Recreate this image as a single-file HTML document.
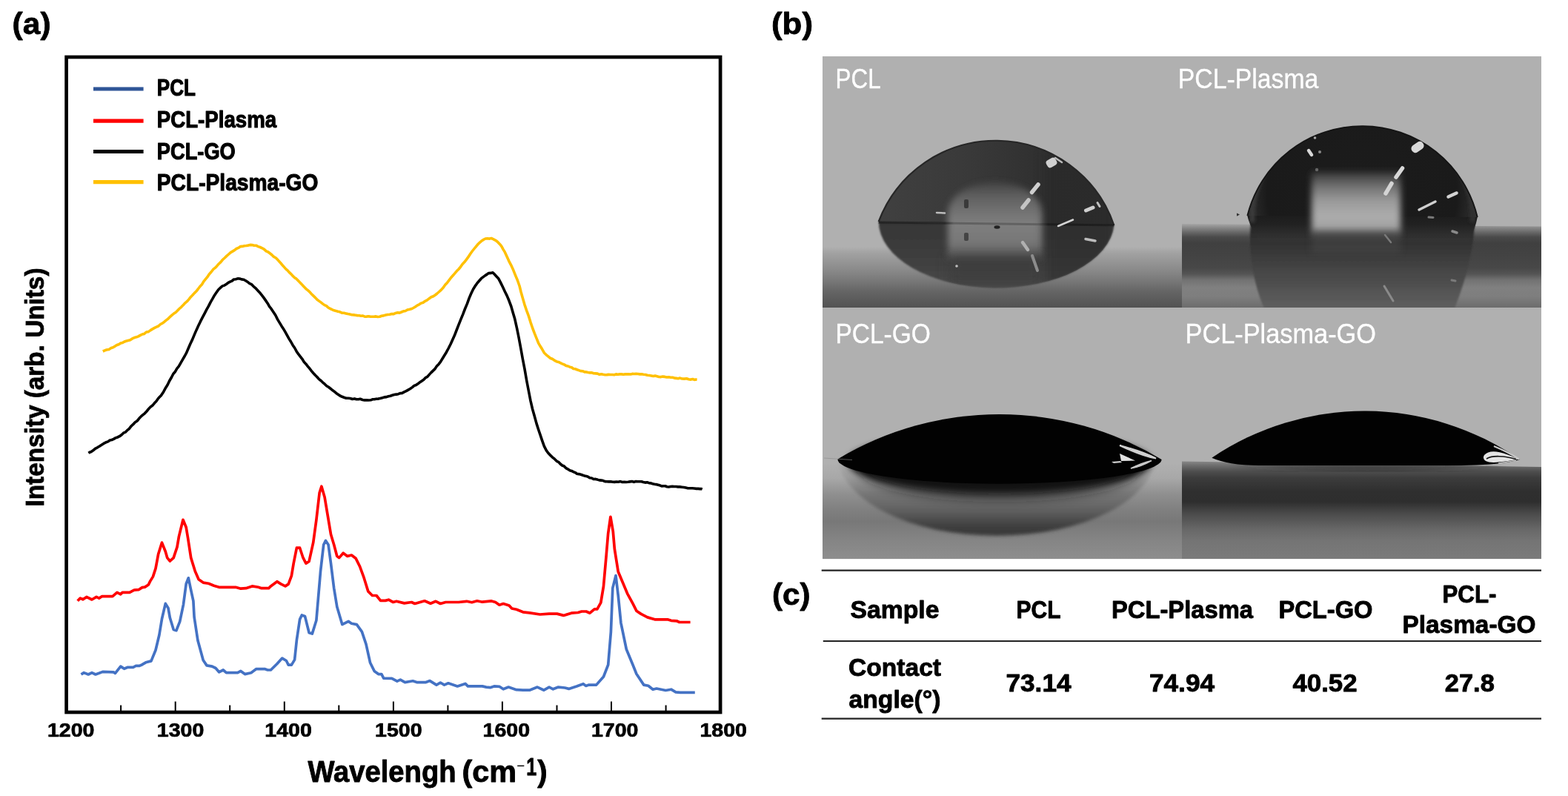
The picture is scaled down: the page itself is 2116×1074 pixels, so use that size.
<!DOCTYPE html>
<html><head><meta charset="utf-8"><title>Figure</title>
<style>
html,body{margin:0;padding:0;background:#fff;}
body{width:2116px;height:1074px;overflow:hidden;}
svg{display:block;}
</style></head><body>
<svg width="2116" height="1074" viewBox="0 0 2116 1074" font-family='"Liberation Sans", sans-serif'><text x="16.6" y="45.6" font-size="40.4" font-weight="bold" text-anchor="start" fill="#000" textLength="52.0" lengthAdjust="spacingAndGlyphs" stroke="#000" stroke-width="0.80" stroke-linejoin="round">(a)</text>
<rect x="89.6" y="77.0" width="882.5" height="884.0" fill="none" stroke="#000" stroke-width="4.7"/>
<line x1="163.1" y1="951.5" x2="163.1" y2="959.0" stroke="#000" stroke-width="2"/>
<line x1="236.7" y1="946.5" x2="236.7" y2="959.0" stroke="#000" stroke-width="2"/>
<line x1="310.2" y1="951.5" x2="310.2" y2="959.0" stroke="#000" stroke-width="2"/>
<line x1="383.8" y1="946.5" x2="383.8" y2="959.0" stroke="#000" stroke-width="2"/>
<line x1="457.3" y1="951.5" x2="457.3" y2="959.0" stroke="#000" stroke-width="2"/>
<line x1="530.9" y1="946.5" x2="530.9" y2="959.0" stroke="#000" stroke-width="2"/>
<line x1="604.4" y1="951.5" x2="604.4" y2="959.0" stroke="#000" stroke-width="2"/>
<line x1="677.9" y1="946.5" x2="677.9" y2="959.0" stroke="#000" stroke-width="2"/>
<line x1="751.5" y1="951.5" x2="751.5" y2="959.0" stroke="#000" stroke-width="2"/>
<line x1="825.0" y1="946.5" x2="825.0" y2="959.0" stroke="#000" stroke-width="2"/>
<line x1="898.6" y1="951.5" x2="898.6" y2="959.0" stroke="#000" stroke-width="2"/>
<text x="95.7" y="994.3" font-size="25.4" font-weight="bold" text-anchor="middle" fill="#000" textLength="63.5" lengthAdjust="spacingAndGlyphs" stroke="#000" stroke-width="0.70" stroke-linejoin="round">1200</text>
<text x="243.6" y="994.3" font-size="25.4" font-weight="bold" text-anchor="middle" fill="#000" textLength="63.5" lengthAdjust="spacingAndGlyphs" stroke="#000" stroke-width="0.70" stroke-linejoin="round">1300</text>
<text x="389.1" y="994.3" font-size="25.4" font-weight="bold" text-anchor="middle" fill="#000" textLength="63.5" lengthAdjust="spacingAndGlyphs" stroke="#000" stroke-width="0.70" stroke-linejoin="round">1400</text>
<text x="537.8" y="994.3" font-size="25.4" font-weight="bold" text-anchor="middle" fill="#000" textLength="63.5" lengthAdjust="spacingAndGlyphs" stroke="#000" stroke-width="0.70" stroke-linejoin="round">1500</text>
<text x="683.3" y="994.3" font-size="25.4" font-weight="bold" text-anchor="middle" fill="#000" textLength="63.5" lengthAdjust="spacingAndGlyphs" stroke="#000" stroke-width="0.70" stroke-linejoin="round">1600</text>
<text x="829.7" y="994.3" font-size="25.4" font-weight="bold" text-anchor="middle" fill="#000" textLength="63.5" lengthAdjust="spacingAndGlyphs" stroke="#000" stroke-width="0.70" stroke-linejoin="round">1700</text>
<text x="976.2" y="994.3" font-size="25.4" font-weight="bold" text-anchor="middle" fill="#000" textLength="63.5" lengthAdjust="spacingAndGlyphs" stroke="#000" stroke-width="0.70" stroke-linejoin="round">1800</text>
<text x="415.5" y="1055.3" font-size="40" font-weight="bold" textLength="200" lengthAdjust="spacingAndGlyphs" stroke="#000" stroke-width="0.9" stroke-linejoin="round">Wavelengh</text>
<text x="623.5" y="1055.3" font-size="40" font-weight="bold" textLength="73.5" lengthAdjust="spacingAndGlyphs" stroke="#000" stroke-width="0.9" stroke-linejoin="round">(cm</text>
<text x="697.2" y="1040.2" font-size="20" font-weight="normal" textLength="11" lengthAdjust="spacingAndGlyphs">&#8722;</text>
<text x="710.3" y="1046" font-size="34" font-weight="bold" textLength="14" lengthAdjust="spacingAndGlyphs" stroke="#000" stroke-width="0.9" stroke-linejoin="round">1</text>
<text x="725.2" y="1055.3" font-size="40" font-weight="bold" stroke="#000" stroke-width="0.9" stroke-linejoin="round">)</text>
<text transform="translate(59,683.5) rotate(-90)" x="0" y="0" font-size="35" font-weight="bold" textLength="322" lengthAdjust="spacingAndGlyphs" stroke="#000" stroke-width="0.8">Intensity (arb. Units)</text>
<line x1="126" y1="120.0" x2="193.6" y2="120.0" stroke="#2f5597" stroke-width="5.2"/>
<text x="211.8" y="128.8" font-size="31.5" font-weight="bold" text-anchor="start" fill="#000" textLength="52.2" lengthAdjust="spacingAndGlyphs" stroke="#000" stroke-width="1.10" stroke-linejoin="round">PCL</text>
<line x1="126" y1="163.1" x2="193.6" y2="163.1" stroke="#ff0000" stroke-width="5.2"/>
<text x="211.8" y="172.0" font-size="31.5" font-weight="bold" text-anchor="start" fill="#000" textLength="161.4" lengthAdjust="spacingAndGlyphs" stroke="#000" stroke-width="1.10" stroke-linejoin="round">PCL-Plasma</text>
<line x1="126" y1="204.5" x2="193.6" y2="204.5" stroke="#000000" stroke-width="5.2"/>
<text x="211.8" y="214.7" font-size="31.5" font-weight="bold" text-anchor="start" fill="#000" textLength="106.0" lengthAdjust="spacingAndGlyphs" stroke="#000" stroke-width="1.10" stroke-linejoin="round">PCL-GO</text>
<line x1="126" y1="245.6" x2="193.6" y2="245.6" stroke="#ffc000" stroke-width="5.2"/>
<text x="211.8" y="256.7" font-size="31.5" font-weight="bold" text-anchor="start" fill="#000" textLength="217.6" lengthAdjust="spacingAndGlyphs" stroke="#000" stroke-width="1.10" stroke-linejoin="round">PCL-Plasma-GO</text>
<path d="M138.8,474.0 L140.8,473.1 L143.7,472.0 L147.0,471.4 L150.0,469.5 L152.5,468.8 L154.7,467.4 L157.3,465.7 L160.7,464.5 L162.8,463.1 L165.0,462.6 L167.4,461.2 L170.0,460.2 L172.8,459.5 L175.7,458.8 L178.8,456.7 L182.0,455.3 L184.3,454.7 L186.7,453.9 L189.3,452.4 L192.0,451.0 L194.7,450.4 L197.5,448.0 L200.3,447.6 L203.1,445.6 L205.9,443.9 L208.6,442.4 L211.2,441.1 L213.8,440.0 L216.5,437.5 L219.2,436.1 L221.8,434.2 L224.5,431.9 L227.0,430.0 L229.6,427.3 L232.1,425.1 L234.6,423.1 L237.1,421.4 L239.6,418.9 L242.0,416.5 L244.6,414.3 L247.3,411.6 L249.8,408.8 L252.4,406.7 L254.9,403.9 L257.4,400.7 L259.8,398.3 L262.2,395.6 L264.6,393.3 L266.9,390.5 L269.7,386.7 L272.3,384.1 L274.8,379.8 L277.2,376.9 L279.7,373.9 L282.3,369.9 L285.0,367.0 L288.0,363.2 L290.3,361.4 L292.7,358.9 L295.3,356.0 L297.9,353.6 L300.5,350.3 L303.2,348.0 L305.9,345.4 L308.6,343.0 L311.3,340.6 L313.9,339.1 L316.4,337.6 L319.1,335.5 L321.8,334.4 L324.5,332.6 L327.1,332.4 L329.8,331.7 L332.4,331.5 L335.0,331.1 L337.6,330.4 L340.3,330.6 L342.9,331.3 L345.6,331.2 L348.3,332.6 L351.0,333.5 L353.8,334.8 L356.5,336.4 L359.2,338.9 L361.9,340.0 L364.5,342.0 L367.0,344.0 L369.4,346.4 L372.3,348.0 L375.3,351.1 L378.1,354.2 L380.9,357.5 L383.5,360.4 L385.9,363.1 L388.1,364.9 L390.0,367.1 L393.2,370.1 L394.9,372.1 L397.7,374.8 L399.7,375.9 L402.0,378.3 L404.6,380.9 L407.3,383.7 L410.1,386.7 L412.8,389.6 L415.4,391.7 L417.9,393.9 L420.4,396.7 L422.9,399.1 L425.5,401.6 L428.0,404.3 L430.5,406.1 L433.0,407.9 L435.5,409.9 L437.9,411.6 L440.4,412.6 L442.9,415.0 L445.4,416.3 L448.0,417.7 L450.7,418.8 L453.2,419.4 L455.9,420.3 L458.6,420.8 L461.4,422.2 L464.1,422.3 L466.8,422.9 L469.5,423.6 L472.0,424.1 L474.7,424.8 L477.3,424.9 L479.8,425.2 L482.3,425.6 L484.8,425.8 L487.2,426.3 L489.7,426.1 L492.2,427.2 L494.6,427.1 L497.1,426.8 L499.5,427.1 L502.0,427.3 L504.6,427.3 L507.3,426.9 L509.8,427.5 L512.4,427.3 L515.0,426.3 L517.7,425.9 L520.5,425.0 L523.2,424.5 L525.9,424.2 L528.6,423.5 L531.3,423.6 L533.9,422.4 L536.6,421.7 L539.2,422.1 L541.9,421.0 L544.5,419.9 L547.2,419.5 L549.8,418.0 L552.4,417.5 L555.1,416.8 L557.8,415.5 L560.4,414.0 L563.0,412.1 L565.7,410.8 L568.3,409.1 L571.0,408.2 L573.7,406.3 L576.5,404.9 L579.3,402.7 L582.0,400.8 L584.8,399.7 L587.4,398.0 L589.9,396.0 L592.2,394.0 L595.4,391.1 L598.2,388.0 L600.8,384.3 L603.5,381.4 L606.4,377.6 L608.7,374.5 L611.2,371.7 L613.7,368.9 L616.3,365.8 L618.9,363.2 L621.4,360.3 L624.0,356.5 L626.6,353.8 L629.3,350.3 L632.0,346.7 L634.7,342.5 L637.2,339.0 L639.6,336.0 L641.8,333.3 L645.0,329.5 L647.5,327.1 L649.9,325.1 L652.4,323.4 L655.1,322.0 L657.9,321.8 L660.6,322.1 L663.0,321.5 L665.6,322.6 L667.8,323.8 L670.0,325.1 L672.3,327.2 L674.7,329.7 L677.0,332.6 L679.1,336.6 L681.2,339.9 L684.1,346.3 L686.6,351.8 L689.6,357.6 L692.8,364.6 L695.8,372.1 L698.3,378.0 L701.1,386.0 L703.0,393.7 L705.4,402.2 L707.8,410.6 L710.5,418.6 L713.3,426.1 L716.0,434.8 L718.6,442.5 L721.3,449.7 L724.0,456.4 L726.6,462.8 L729.2,467.3 L731.7,471.3 L734.3,475.9 L737.2,478.8 L739.8,480.9 L742.5,483.2 L745.3,484.3 L748.3,486.3 L751.4,487.9 L753.7,488.4 L756.2,489.6 L758.7,490.8 L761.3,491.9 L763.9,493.4 L766.5,494.0 L769.0,495.2 L771.5,495.8 L773.8,497.5 L776.2,497.8 L778.6,498.7 L781.1,499.6 L783.8,500.6 L786.7,500.8 L788.9,501.9 L791.2,501.9 L793.6,502.5 L796.1,502.9 L798.7,502.9 L801.2,503.8 L803.8,503.9 L806.4,504.1 L809.0,505.3 L811.5,504.8 L814.0,505.3 L816.5,505.7 L818.9,505.6 L821.4,505.4 L823.9,505.5 L826.4,505.5 L828.9,505.7 L831.3,504.9 L833.8,505.3 L836.3,504.9 L838.8,504.9 L841.2,505.3 L843.6,504.9 L846.0,504.8 L848.4,504.9 L850.9,505.0 L853.3,504.4 L855.8,504.5 L858.4,504.4 L861.0,504.5 L863.4,504.9 L865.9,504.8 L868.5,505.2 L871.0,505.5 L873.6,506.3 L876.2,506.5 L878.9,507.0 L881.5,507.5 L884.1,507.1 L886.7,507.8 L889.3,508.5 L891.9,508.6 L894.5,508.1 L897.2,508.4 L899.8,509.0 L902.5,508.8 L905.1,509.2 L907.7,509.2 L910.3,510.1 L912.8,510.4 L915.2,510.7 L917.6,510.1 L920.5,511.0 L923.5,511.1 L926.5,510.8 L929.4,511.8 L932.2,512.1 L934.8,511.5 L937.1,512.4 L939.1,512.0 L940.6,512.2" fill="none" stroke="#ffc000" stroke-width="3.6" stroke-linejoin="round" stroke-linecap="butt"/>
<path d="M119.4,611.3 L121.0,610.3 L123.1,609.5 L125.6,607.8 L128.4,605.3 L131.4,603.8 L134.4,602.0 L137.5,600.0 L140.3,598.2 L143.0,596.8 L145.7,595.9 L148.3,594.0 L150.8,593.5 L153.4,592.4 L155.9,590.9 L158.5,590.0 L161.3,588.7 L164.3,586.5 L166.6,584.2 L169.1,583.2 L171.6,580.7 L174.2,578.6 L176.9,575.1 L179.6,572.7 L182.3,569.8 L185.0,568.0 L187.6,564.8 L190.1,562.1 L192.6,559.9 L195.3,557.8 L197.9,555.0 L200.6,551.7 L203.2,548.9 L205.8,547.1 L208.3,544.1 L210.8,541.5 L213.1,538.2 L215.3,535.6 L217.3,533.7 L220.8,528.4 L223.6,523.2 L226.1,519.3 L228.6,514.0 L231.5,509.0 L233.8,504.5 L236.2,501.8 L238.7,497.3 L241.2,494.3 L243.8,489.8 L246.5,485.2 L249.2,480.5 L251.7,475.9 L254.3,469.7 L256.9,463.7 L259.6,458.1 L262.3,451.6 L265.0,445.4 L267.7,439.6 L270.4,433.9 L273.1,428.7 L275.9,423.3 L278.7,417.9 L281.4,413.1 L284.2,407.6 L286.8,403.2 L289.3,398.7 L291.6,395.3 L294.8,390.7 L297.6,388.1 L300.2,385.9 L302.8,385.1 L305.8,383.2 L308.1,381.3 L310.5,380.1 L313.0,379.1 L315.5,377.0 L318.1,376.8 L320.8,375.9 L323.5,376.0 L326.0,376.9 L328.6,377.2 L331.2,378.5 L333.9,380.2 L336.6,382.3 L339.3,383.6 L342.0,386.3 L344.7,388.6 L347.4,391.4 L350.2,394.4 L353.0,397.9 L355.7,401.4 L358.5,405.4 L361.1,409.2 L363.6,413.6 L365.9,416.4 L369.1,421.2 L371.9,425.5 L374.4,430.6 L377.1,435.1 L380.0,439.9 L382.3,443.4 L384.8,447.7 L387.3,452.2 L389.9,456.9 L392.5,461.0 L395.1,465.7 L397.7,469.5 L400.2,474.2 L402.8,477.9 L405.3,481.1 L407.8,484.3 L410.4,488.6 L412.9,491.2 L415.4,494.4 L417.9,497.2 L420.4,500.6 L422.9,503.5 L425.5,506.3 L428.0,508.7 L430.5,511.6 L433.0,513.5 L435.6,516.1 L438.2,518.2 L440.8,520.7 L443.4,522.3 L445.9,524.2 L448.4,526.3 L450.7,527.9 L453.7,530.4 L456.3,532.2 L458.9,534.0 L461.7,535.3 L464.9,536.5 L467.3,537.3 L469.9,537.2 L472.6,537.5 L475.5,538.5 L478.4,537.9 L481.1,538.7 L483.7,538.8 L486.1,538.3 L489.3,539.5 L491.9,539.9 L494.5,539.8 L497.1,540.0 L500.3,539.8 L502.6,538.8 L505.1,538.8 L507.7,538.3 L510.5,538.1 L513.2,537.4 L516.0,536.8 L518.8,535.9 L521.5,535.6 L524.1,534.8 L526.8,534.3 L529.4,533.3 L532.1,532.6 L534.7,532.1 L537.4,531.7 L540.0,530.6 L542.7,530.4 L545.4,528.9 L548.1,527.6 L550.8,526.1 L553.6,524.5 L556.3,522.6 L558.9,520.4 L561.5,519.5 L564.0,517.8 L566.7,515.7 L569.3,513.9 L571.8,512.2 L574.2,509.7 L576.7,508.4 L579.1,505.6 L581.6,502.9 L584.2,500.4 L586.8,497.9 L589.4,494.1 L592.0,491.4 L594.5,488.1 L597.0,484.0 L599.3,480.3 L602.4,475.2 L605.2,470.0 L608.0,464.5 L610.7,458.4 L613.5,452.3 L616.3,445.0 L619.1,437.9 L622.0,430.7 L624.8,423.9 L627.6,416.5 L630.4,409.9 L633.1,402.4 L635.9,395.8 L638.7,389.9 L641.8,385.1 L644.2,381.8 L646.8,378.8 L649.5,375.7 L652.2,373.6 L654.9,371.6 L657.3,370.1 L659.5,368.6 L662.5,368.4 L665.0,367.8 L667.3,370.1 L670.0,373.0 L672.6,375.7 L675.5,381.1 L678.5,387.3 L681.4,393.5 L684.1,398.9 L687.0,405.8 L689.7,413.0 L692.2,421.8 L694.8,430.6 L697.5,442.7 L700.1,455.5 L702.8,470.0 L705.4,484.5 L708.0,497.9 L710.7,513.5 L713.4,527.5 L716.0,540.9 L718.6,552.0 L721.3,561.5 L724.0,571.4 L726.6,579.5 L729.2,587.1 L731.7,594.6 L734.3,601.9 L737.2,607.6 L739.8,611.2 L742.5,614.1 L745.3,616.8 L748.3,619.2 L751.4,622.3 L753.7,623.3 L756.2,626.0 L758.7,628.0 L761.3,629.0 L763.9,631.7 L766.5,633.1 L769.0,634.7 L771.5,635.4 L773.8,636.6 L776.2,637.6 L778.6,639.2 L781.1,639.6 L783.8,640.3 L786.7,641.3 L788.9,641.9 L791.1,642.4 L793.5,643.2 L795.9,644.8 L798.4,645.0 L801.0,646.5 L803.6,646.4 L806.2,647.1 L808.8,647.9 L811.5,648.1 L813.9,648.6 L816.4,649.6 L819.0,649.7 L821.5,649.9 L824.1,649.8 L826.7,650.3 L829.4,650.4 L832.0,650.0 L834.6,650.3 L837.2,649.6 L839.8,650.5 L842.4,650.2 L845.0,650.5 L847.6,650.3 L850.2,649.9 L852.9,649.5 L855.5,650.4 L858.1,649.5 L860.6,649.8 L863.2,649.7 L865.7,649.8 L868.1,650.5 L870.7,651.1 L873.3,650.7 L875.8,651.7 L878.3,651.9 L880.7,652.8 L883.2,653.3 L885.6,653.6 L888.0,654.2 L890.4,654.8 L892.9,655.9 L895.3,655.8 L897.8,655.8 L900.1,656.7 L902.5,657.0 L904.9,656.5 L907.3,656.3 L909.8,656.5 L912.3,656.5 L914.9,656.9 L917.6,656.9 L920.0,657.2 L922.7,657.5 L925.5,658.1 L928.3,658.7 L931.3,658.8 L934.2,658.7 L937.0,659.0 L939.7,659.4 L942.2,659.4 L944.4,659.6 L946.2,659.5 L947.7,660.1" fill="none" stroke="#000000" stroke-width="3.6" stroke-linejoin="round" stroke-linecap="butt"/>
<path d="M104.7,810.8 L108.3,807.1 L112.0,808.8 L116.8,805.4 L124.0,809.0 L130.1,805.4 L133.7,807.1 L137.4,804.7 L151.9,804.7 L158.0,799.4 L162.8,801.8 L165.2,799.4 L174.9,799.4 L181.0,796.2 L187.0,795.7 L191.9,792.6 L195.5,792.1 L200.3,789.0 L202.7,784.1 L206.4,778.1 L210.0,767.2 L213.6,747.8 L218.5,732.1 L223.3,744.2 L225.7,752.6 L229.4,757.0 L234.2,752.6 L239.0,738.1 L241.5,723.6 L247.0,701.3 L251.2,711.5 L253.6,726.0 L257.7,752.6 L263.3,770.8 L268.1,781.7 L274.2,786.1 L281.4,787.3 L288.7,790.2 L295.6,792.3 L317.9,792.3 L324.9,794.2 L331.9,793.7 L340.3,790.9 L348.7,792.3 L352.9,793.7 L362.6,793.7 L365.4,790.9 L373.8,784.7 L379.4,788.1 L385.0,790.9 L389.2,788.1 L393.4,776.9 L396.2,760.1 L400.4,739.2 L404.6,739.2 L408.7,751.8 L412.9,760.1 L417.1,757.4 L422.7,732.2 L426.9,701.5 L431.1,665.1 L433.9,656.2 L438.1,670.7 L442.3,695.9 L446.5,721.0 L450.7,735.0 L454.8,750.4 L457.6,752.6 L463.2,746.2 L468.8,750.4 L474.4,749.0 L480.0,753.2 L485.6,764.3 L491.2,779.7 L496.8,797.9 L502.4,803.5 L508.0,803.5 L513.5,810.4 L520.0,810.4 L524.4,809.2 L530.6,812.5 L535.0,811.3 L545.6,813.9 L555.4,812.5 L559.8,814.5 L573.0,810.8 L581.0,814.3 L588.1,811.3 L594.3,814.5 L601.4,812.5 L619.0,812.5 L629.7,811.3 L636.7,812.7 L643.8,810.8 L650.9,812.2 L663.3,810.9 L668.6,812.5 L673.9,816.2 L679.2,814.5 L687.1,817.0 L690.7,821.0 L696.9,822.3 L705.7,825.8 L714.6,826.9 L728.7,829.0 L741.1,828.1 L751.7,828.1 L760.5,830.4 L771.1,827.2 L780.0,826.5 L784.9,825.0 L791.1,825.0 L796.0,827.2 L802.2,821.8 L805.9,821.8 L810.8,813.1 L814.5,790.9 L818.2,749.0 L820.7,719.4 L823.9,697.3 L827.3,717.0 L829.3,740.4 L834.2,771.2 L840.4,786.0 L846.6,800.8 L854.0,814.4 L858.9,824.2 L865.1,828.4 L873.7,832.9 L883.6,835.8 L900.8,835.8 L905.7,837.3 L913.1,837.8 L916.8,839.5 L931.6,839.5" fill="none" stroke="#ff0000" stroke-width="3.7" stroke-linejoin="round" stroke-linecap="butt"/>
<path d="M109.5,910.0 L113.2,907.6 L119.2,910.0 L124.0,907.6 L128.9,910.0 L133.7,908.3 L138.6,906.4 L153.1,906.9 L155.5,908.3 L162.8,899.1 L167.6,902.3 L172.5,900.3 L179.7,900.3 L183.4,898.4 L188.2,898.4 L191.9,896.7 L196.7,893.8 L204.0,891.9 L210.0,877.3 L214.9,856.8 L218.5,835.0 L223.3,814.4 L227.0,820.4 L229.4,833.8 L234.2,849.5 L237.9,850.7 L242.7,838.6 L247.5,815.6 L251.2,787.7 L254.3,779.8 L257.2,793.8 L260.9,810.8 L262.1,832.5 L266.9,864.0 L274.2,890.7 L279.0,897.9 L286.3,899.1 L291.1,901.5 L295.6,906.8 L301.2,904.0 L305.4,907.7 L320.7,907.7 L324.9,905.4 L330.5,909.6 L338.9,907.7 L345.9,902.6 L357.1,902.6 L361.2,904.0 L365.4,904.0 L373.8,895.7 L380.8,888.1 L386.4,891.5 L389.2,897.1 L393.4,897.1 L397.6,890.1 L400.4,863.5 L404.6,835.6 L407.3,830.0 L411.5,831.4 L417.1,853.7 L421.3,855.1 L426.9,837.0 L432.5,771.3 L436.7,735.0 L439.5,729.4 L443.1,735.0 L446.5,760.1 L450.7,793.7 L454.8,818.8 L461.8,842.6 L470.2,838.4 L474.4,841.2 L481.4,842.6 L488.4,852.3 L494.0,869.1 L499.6,894.3 L505.1,905.4 L510.7,909.6 L514.9,909.6 L517.7,915.2 L528.8,915.3 L535.9,919.2 L540.3,917.1 L546.5,920.6 L557.1,918.8 L562.4,920.6 L574.8,920.6 L580.1,918.6 L589.0,924.1 L594.3,921.0 L599.6,924.1 L604.9,921.8 L617.3,925.9 L627.9,922.4 L631.4,925.9 L650.9,925.9 L656.2,927.1 L661.5,927.7 L666.8,925.9 L673.9,926.3 L679.2,929.8 L686.2,927.1 L696.9,930.7 L705.7,931.2 L714.6,931.2 L725.2,927.1 L734.0,931.2 L741.1,927.1 L746.4,929.8 L753.5,927.1 L762.3,928.0 L767.6,929.4 L778.2,925.9 L787.1,922.7 L790.6,925.4 L794.8,924.1 L804.7,924.1 L814.5,913.0 L820.7,897.0 L824.4,852.6 L826.8,793.4 L831.0,776.6 L834.2,803.3 L837.9,840.3 L845.3,876.0 L854.0,897.0 L858.9,909.3 L868.8,924.1 L874.9,925.3 L881.1,930.2 L886.0,929.0 L898.3,931.5 L905.7,930.2 L911.9,933.9 L918.1,934.4 L937.8,934.4" fill="none" stroke="#4472c4" stroke-width="3.7" stroke-linejoin="round" stroke-linecap="butt"/>
<text x="1041.0" y="45.6" font-size="40.4" font-weight="bold" text-anchor="start" fill="#000" textLength="56.0" lengthAdjust="spacingAndGlyphs" stroke="#000" stroke-width="0.80" stroke-linejoin="round">(b)</text>
<defs><filter id="bl1" x="-10%" y="-10%" width="120%" height="120%"><feGaussianBlur stdDeviation="1"/></filter><filter id="bl2" x="-10%" y="-10%" width="120%" height="120%"><feGaussianBlur stdDeviation="2"/></filter><filter id="bl4" x="-20%" y="-20%" width="140%" height="140%"><feGaussianBlur stdDeviation="4"/></filter><filter id="bl8" x="-30%" y="-30%" width="160%" height="160%"><feGaussianBlur stdDeviation="8"/></filter><filter id="bl12" x="-40%" y="-40%" width="180%" height="180%"><feGaussianBlur stdDeviation="12"/></filter><clipPath id="c_tl"><rect x="1110.0" y="76.0" width="485.0" height="339.0"/></clipPath><clipPath id="c_tr"><rect x="1595.0" y="76.0" width="485.0" height="339.0"/></clipPath><clipPath id="c_bl"><rect x="1110.0" y="415.0" width="485.0" height="339.3"/></clipPath><clipPath id="c_br"><rect x="1595.0" y="415.0" width="485.0" height="339.3"/></clipPath><linearGradient id="g_tl_sub" gradientUnits="userSpaceOnUse" x1="0" y1="333.0" x2="0" y2="415.0"><stop offset="0.000" stop-color="#b0b0b0"/><stop offset="0.100" stop-color="#a2a2a2"/><stop offset="0.400" stop-color="#888888"/><stop offset="0.580" stop-color="#767676"/><stop offset="0.720" stop-color="#666666"/><stop offset="0.860" stop-color="#5c5c5c"/><stop offset="1.000" stop-color="#525252"/></linearGradient><clipPath id="c_tl_drop"><path d="M1185.7,299.0 A168.8,168.8 0 0 1 1503.4,304.0 Z"/><path d="M1185.7,299.0 A159,90 0 0 0 1503.4,304.0 Z"/></clipPath><linearGradient id="g_tl_refl" gradientUnits="userSpaceOnUse" x1="0" y1="300.0" x2="0" y2="394.0"><stop offset="0.000" stop-color="#363636"/><stop offset="0.400" stop-color="#3c3c3c"/><stop offset="0.800" stop-color="#464646"/><stop offset="1.000" stop-color="#505050"/></linearGradient><linearGradient id="g_tl_cap" gradientUnits="userSpaceOnUse" x1="1186" y1="0" x2="1503" y2="0"><stop offset="0" stop-color="#404040"/><stop offset="0.35" stop-color="#3a3a3a"/><stop offset="0.72" stop-color="#2f2f2f"/><stop offset="1" stop-color="#303030"/></linearGradient><linearGradient id="g_tl_lt" gradientUnits="userSpaceOnUse" x1="0" y1="246.0" x2="0" y2="352.0"><stop offset="0.000" stop-color="#444444"/><stop offset="0.200" stop-color="#626262"/><stop offset="0.400" stop-color="#747474"/><stop offset="0.520" stop-color="#7e7e7e"/><stop offset="0.750" stop-color="#787878"/><stop offset="0.880" stop-color="#666666"/><stop offset="1.000" stop-color="#444444"/></linearGradient><linearGradient id="g_tl_cl" gradientUnits="userSpaceOnUse" x1="1186" y1="0" x2="1503" y2="0"><stop offset="0" stop-color="#1a1a1a"/><stop offset="0.28" stop-color="#1e1e1e"/><stop offset="0.32" stop-color="#3a3a3a" stop-opacity="0.5"/><stop offset="0.68" stop-color="#3a3a3a" stop-opacity="0.5"/><stop offset="0.72" stop-color="#161616"/><stop offset="1" stop-color="#1a1a1a"/></linearGradient><linearGradient id="g_tr_sub" gradientUnits="userSpaceOnUse" x1="0" y1="302.0" x2="0" y2="415.0"><stop offset="0.000" stop-color="#a6a6a6"/><stop offset="0.044" stop-color="#8a8a8a"/><stop offset="0.097" stop-color="#6a6a6a"/><stop offset="0.159" stop-color="#4a4a4a"/><stop offset="0.230" stop-color="#404040"/><stop offset="0.380" stop-color="#434343"/><stop offset="0.530" stop-color="#484848"/><stop offset="0.600" stop-color="#555555"/><stop offset="0.670" stop-color="#727272"/><stop offset="0.760" stop-color="#808080"/><stop offset="0.867" stop-color="#7e7e7e"/><stop offset="0.930" stop-color="#767676"/><stop offset="1.000" stop-color="#6c6c6c"/></linearGradient><linearGradient id="g_tr_low" gradientUnits="userSpaceOnUse" x1="0" y1="290.0" x2="0" y2="328.0"><stop offset="0.000" stop-color="#1c1c1c" stop-opacity="1.00"/><stop offset="0.350" stop-color="#222222" stop-opacity="1.00"/><stop offset="0.700" stop-color="#2e2e2e" stop-opacity="0.60"/><stop offset="1.000" stop-color="#3a3a3a" stop-opacity="0.00"/></linearGradient><clipPath id="c_tr_drop"><path d="M1683.3,291.0 A159.8,159.8 0 0 1 1993.8,293.0 C1992,303 1988,314 1982,326 L1700,326 C1692,314 1686,303 1683.3,291.0 Z"/></clipPath><clipPath id="c_tr_cap"><path d="M1683.3,291.0 A159.8,159.8 0 0 1 1993.8,293.0 Z"/></clipPath><radialGradient id="g_tr_cap" gradientUnits="userSpaceOnUse" cx="1838" cy="262" r="160"><stop offset="0" stop-color="#1c1c1c"/><stop offset="0.8" stop-color="#1a1a1a"/><stop offset="0.93" stop-color="#2a2a2a"/><stop offset="1" stop-color="#343434"/></radialGradient><linearGradient id="g_tr_refl" gradientUnits="userSpaceOnUse" x1="0" y1="300.0" x2="0" y2="416.0"><stop offset="0.000" stop-color="#262626"/><stop offset="0.155" stop-color="#2e2e2e"/><stop offset="0.345" stop-color="#383838"/><stop offset="0.520" stop-color="#434343"/><stop offset="0.690" stop-color="#4d4d4d"/><stop offset="0.860" stop-color="#585858"/><stop offset="1.000" stop-color="#5e5e5e"/></linearGradient><linearGradient id="g_tr_brt" gradientUnits="userSpaceOnUse" x1="0" y1="234.0" x2="0" y2="316.0"><stop offset="0.000" stop-color="#3a3a3a"/><stop offset="0.200" stop-color="#6e6e6e"/><stop offset="0.450" stop-color="#9a9a9a"/><stop offset="0.700" stop-color="#acacac"/><stop offset="0.880" stop-color="#a4a4a4"/><stop offset="1.000" stop-color="#5a5a5a"/></linearGradient><linearGradient id="g_bl_sub" gradientUnits="userSpaceOnUse" x1="0" y1="625.0" x2="0" y2="754.3"><stop offset="0.000" stop-color="#b0b0b0"/><stop offset="0.155" stop-color="#a8a8a8"/><stop offset="0.325" stop-color="#8f8f8f"/><stop offset="0.495" stop-color="#7f7f7f"/><stop offset="0.610" stop-color="#787878"/><stop offset="0.790" stop-color="#848484"/><stop offset="1.000" stop-color="#8e8e8e"/></linearGradient><linearGradient id="g_bl_refl" gradientUnits="userSpaceOnUse" x1="0" y1="612.0" x2="0" y2="724.0"><stop offset="0.000" stop-color="#a0a0a0" stop-opacity="0.00"/><stop offset="0.300" stop-color="#8e8e8e" stop-opacity="0.60"/><stop offset="0.500" stop-color="#747474"/><stop offset="0.620" stop-color="#686868"/><stop offset="0.720" stop-color="#5a5a5a"/><stop offset="0.820" stop-color="#484848"/><stop offset="0.920" stop-color="#3a3a3a"/><stop offset="1.000" stop-color="#3e3e3e"/></linearGradient><linearGradient id="g_br_sub" gradientUnits="userSpaceOnUse" x1="0" y1="622.0" x2="0" y2="754.3"><stop offset="0.000" stop-color="#8a8a8a"/><stop offset="0.045" stop-color="#6e6e6e"/><stop offset="0.106" stop-color="#4e4e4e"/><stop offset="0.174" stop-color="#3c3c3c"/><stop offset="0.310" stop-color="#2f2f2f"/><stop offset="0.415" stop-color="#2e2e2e"/><stop offset="0.544" stop-color="#4c4c4c"/><stop offset="0.700" stop-color="#686868"/><stop offset="0.810" stop-color="#747474"/><stop offset="1.000" stop-color="#7b7b7b"/></linearGradient></defs><g clip-path="url(#c_tl)">
<rect x="1110.0" y="76.0" width="485.0" height="339.0" fill="#b0b0b0"/>
<rect x="1110.0" y="333" width="485.0" height="82.0" fill="url(#g_tl_sub)"/>
<path d="M1185.7,299.0 A159,90 0 0 0 1503.4,304.0 Z" fill="url(#g_tl_refl)" filter="url(#bl1)"/>
<path d="M1185.7,299.0 A168.8,168.8 0 0 1 1503.4,304.0 Z" fill="url(#g_tl_cap)"/>
<g clip-path="url(#c_tl_drop)">
<path d="M1279,350 L1279,290 C1279,262 1310,246 1343,246 C1376,246 1407,262 1407,290 L1407,350 Z" fill="url(#g_tl_lt)" filter="url(#bl4)"/>
<rect x="1280" y="345" width="126" height="40" fill="#3c3c3c" filter="url(#bl8)" opacity="0.7"/>
<rect x="1412" y="200" width="90" height="200" fill="#262626" filter="url(#bl8)" opacity="0.5"/>
</g>
<path d="M1185.7,299.0 A168.8,168.8 0 0 1 1503.4,304.0" fill="none" stroke="#262626" stroke-width="2.2"/>
<line x1="1185.7" y1="300.0" x2="1503.4" y2="304.0" stroke="url(#g_tl_cl)" stroke-width="3" opacity="0.8"/>
<rect x="1412" y="214" width="14" height="11" rx="4" fill="#d0d0d0" transform="rotate(-30 1419 219.5)"/>
<line x1="1424.0" y1="213.0" x2="1433.0" y2="219.0" stroke="#bbbbbb" stroke-width="2.5" stroke-linecap="round" opacity="1.00"/>
<line x1="1401.0" y1="249.0" x2="1392.5" y2="259.5" stroke="#cfcfcf" stroke-width="5.5" stroke-linecap="round" opacity="1.00"/>
<line x1="1388.0" y1="270.0" x2="1380.0" y2="280.0" stroke="#c4c4c4" stroke-width="5.5" stroke-linecap="round" opacity="1.00"/>
<line x1="1475.0" y1="280.0" x2="1465.5" y2="284.0" stroke="#cfcfcf" stroke-width="5.0" stroke-linecap="round" opacity="1.00"/>
<line x1="1481.0" y1="273.5" x2="1484.0" y2="278.5" stroke="#c0c0c0" stroke-width="3.0" stroke-linecap="round" opacity="1.00"/>
<line x1="1428.0" y1="305.0" x2="1448.0" y2="296.5" stroke="#d4d4d4" stroke-width="2.5" stroke-linecap="round" opacity="1.00"/>
<line x1="1264.0" y1="287.0" x2="1275.0" y2="287.5" stroke="#bdbdbd" stroke-width="2.5" stroke-linecap="round" opacity="1.00"/>
<line x1="1380.0" y1="327.0" x2="1387.0" y2="337.0" stroke="#b0b0b0" stroke-width="4.5" stroke-linecap="round" opacity="1.00"/>
<line x1="1393.0" y1="345.0" x2="1400.0" y2="365.0" stroke="#8c8c8c" stroke-width="4.0" stroke-linecap="round" opacity="1.00"/>
<line x1="1465.0" y1="322.5" x2="1478.0" y2="325.0" stroke="#bcbcbc" stroke-width="3.5" stroke-linecap="round" opacity="1.00"/>
<circle cx="1291" cy="359" r="1.8" fill="#c0c0c0"/>
<rect x="1301" y="269" width="6" height="12" rx="2" fill="#3a3a3a"/>
<rect x="1301" y="314" width="6" height="11" rx="2" fill="#444444"/>
<ellipse cx="1345.5" cy="306.5" rx="4" ry="2.2" fill="#222"/>
</g>
<g clip-path="url(#c_tr)">
<rect x="1595.0" y="76.0" width="485.0" height="339.0" fill="#b0b0b0"/>
<path d="M1595.0,302 L2080.0,305.5 L2080.0,415.0 L1595.0,415.0 Z" fill="url(#g_tr_sub)"/>
<path d="M1688,300 C1684,340 1692,385 1706,416 L1963,416 C1975,385 1988,345 1990,300 Z" fill="url(#g_tr_refl)" filter="url(#bl1)"/>
<path d="M1683.3,291.0 A159.8,159.8 0 0 1 1993.8,293.0 C1992,303 1988,314 1982,326 L1700,326 C1692,314 1686,303 1683.3,291.0 Z" fill="url(#g_tr_low)"/>
<path d="M1683.3,291.0 A159.8,159.8 0 0 1 1993.8,293.0 Z" fill="url(#g_tr_cap)"/>
<g clip-path="url(#c_tr_drop)">
<rect x="1770" y="232" width="120" height="86" fill="url(#g_tr_brt)" filter="url(#bl4)"/>
<path d="M1690,300 C1688,265 1700,232 1722,210" fill="none" stroke="#3a3a3a" stroke-width="7" filter="url(#bl2)"/>
<path d="M1987,300 C1990,268 1978,238 1958,214" fill="none" stroke="#333333" stroke-width="7" filter="url(#bl2)"/>
</g>
<path d="M1683.3,291.0 A159.8,159.8 0 0 1 1993.8,293.0" fill="none" stroke="#141414" stroke-width="1.8"/>
<rect x="1770" y="312" width="120" height="30" fill="#4a4a4a" filter="url(#bl4)" opacity="0.5"/>
<rect x="1904" y="193" width="18" height="11" rx="5" fill="#d8d8d8" transform="rotate(-35 1913 198.5)"/>
<line x1="1892.5" y1="227.0" x2="1884.0" y2="239.0" stroke="#d8d8d8" stroke-width="5.5" stroke-linecap="round" opacity="1.00"/>
<line x1="1878.0" y1="247.5" x2="1870.0" y2="261.0" stroke="#d4d4d4" stroke-width="5.5" stroke-linecap="round" opacity="1.00"/>
<line x1="1965.5" y1="260.5" x2="1954.5" y2="265.5" stroke="#d4d4d4" stroke-width="4.5" stroke-linecap="round" opacity="1.00"/>
<line x1="1937.0" y1="272.0" x2="1915.0" y2="283.0" stroke="#cfcfcf" stroke-width="3.5" stroke-linecap="round" opacity="1.00"/>
<line x1="1766.0" y1="203.0" x2="1770.0" y2="209.0" stroke="#d8d8d8" stroke-width="4.5" stroke-linecap="round" opacity="1.00"/>
<circle cx="1774.5" cy="186" r="1.8" fill="#aaaaaa"/>
<circle cx="1781" cy="205" r="2" fill="#8a8a8a"/>
<circle cx="1777" cy="229" r="2.2" fill="#666666"/>
<line x1="1928.0" y1="293.0" x2="1934.0" y2="293.5" stroke="#7a7a7a" stroke-width="3.0" stroke-linecap="round" opacity="1.00"/>
<line x1="1960.0" y1="312.0" x2="1966.0" y2="314.0" stroke="#8a8a8a" stroke-width="3.5" stroke-linecap="round" opacity="1.00"/>
<line x1="1869.0" y1="317.0" x2="1877.0" y2="327.0" stroke="#7a7a7a" stroke-width="2.5" stroke-linecap="round" opacity="1.00"/>
<line x1="1868.0" y1="386.0" x2="1880.0" y2="406.0" stroke="#8a8a8a" stroke-width="3.0" stroke-linecap="round" opacity="1.00"/>
<line x1="1959.0" y1="378.0" x2="1964.0" y2="379.0" stroke="#7a7a7a" stroke-width="3.0" stroke-linecap="round" opacity="1.00"/>
<path d="M1669,287.5 l4,2 l-4,2.2 z" fill="#333"/>
</g>
<g clip-path="url(#c_bl)">
<rect x="1110.0" y="415.0" width="485.0" height="339.3" fill="#b0b0b0"/>
<rect x="1110.0" y="625" width="485.0" height="129.3" fill="url(#g_bl_sub)"/>
<path d="M1130,612 A215,111 0 0 0 1560,612 Z" fill="url(#g_bl_refl)" filter="url(#bl2)"/>
<ellipse cx="1349" cy="623" rx="205" ry="40" fill="#060606" filter="url(#bl4)"/>
<ellipse cx="1349" cy="630" rx="190" ry="42" fill="#151515" filter="url(#bl8)" opacity="0.8"/>
<path d="M1130.5,619.4 A424.1,424.1 0 0 1 1567.6,619.9 A218.5,33 0 0 1 1130.5,619.4 Z" fill="#020202"/>
<path d="M1511,601 C1530,606 1548,612 1560,618.5 C1545,616 1528,609 1511,601 Z" fill="#cfcfcf" stroke="#cfcfcf" stroke-width="2"/>
<path d="M1511,612 L1513,622 L1532,621.5 Z" fill="#e0e0e0"/>
<path d="M1500,623 L1512,622 L1514,624 L1503,625 Z" fill="#d0d0d0"/>
<path d="M1526,632 C1536,627 1545,623.5 1554,621.5 C1546,626 1537,630 1526,632 Z" fill="#c8c8c8" stroke="#c8c8c8" stroke-width="1.5"/>
<line x1="1112" y1="618" x2="1150" y2="620.5" stroke="#8a8a8a" stroke-width="1" opacity="0.6"/>
</g>
<g clip-path="url(#c_br)">
<rect x="1595.0" y="415.0" width="485.0" height="339.3" fill="#b0b0b0"/>
<path d="M1595.0,622.5 L2080.0,630 L2080.0,754.3 L1595.0,754.3 Z" fill="url(#g_br_sub)"/>
<path d="M1660,626 Q1845,644 2030,626 Z" fill="#1a1a1a" opacity="0.6" filter="url(#bl4)"/>
<path d="M1635.3,617.7 A368.0,368.0 0 0 1 2050.8,620.0 C2030,626 2000,628 1960,628 L1700,628 C1670,628 1650,624 1635.3,617.7 Z" fill="#020202"/>
<path d="M2003,614 C2010,606 2025,608 2049,619.5 C2030,623 2012,626 2005,622 C2002,620 2001,617 2003,614 Z" fill="#e4e4e4"/>
<path d="M2006,619 C2014,614 2030,615 2046,619.5" fill="none" stroke="#111" stroke-width="1.6"/>
<path d="M2016,602 C2028,607 2040,613 2050,619.5" fill="none" stroke="#c8c8c8" stroke-width="2.2"/>
<path d="M2022,625 L2046,621" fill="none" stroke="#bbbbbb" stroke-width="1.5"/>
</g>
<text x="1127.6" y="118.5" font-size="36.3" fill="#fff" stroke="#fff" stroke-width="0.35" lengthAdjust="spacingAndGlyphs" textLength="61">PCL</text>
<text x="1589.8" y="118.5" font-size="36.3" fill="#fff" stroke="#fff" stroke-width="0.35" lengthAdjust="spacingAndGlyphs" textLength="189.5">PCL-Plasma</text>
<text x="1127.4" y="463" font-size="36.3" fill="#fff" stroke="#fff" stroke-width="0.35" lengthAdjust="spacingAndGlyphs" textLength="128.5">PCL-GO</text>
<text x="1599.5" y="463" font-size="36.3" fill="#fff" stroke="#fff" stroke-width="0.35" lengthAdjust="spacingAndGlyphs" textLength="257.5">PCL-Plasma-GO</text>
<text x="1042.0" y="816.4" font-size="40.4" font-weight="bold" text-anchor="start" fill="#000" textLength="51.5" lengthAdjust="spacingAndGlyphs" stroke="#000" stroke-width="0.80" stroke-linejoin="round">(c)</text>
<line x1="1108.7" y1="769.7" x2="2080" y2="769.7" stroke="#222" stroke-width="2.2"/>
<line x1="1110.8" y1="865.0" x2="2080" y2="865.0" stroke="#222" stroke-width="2.2"/>
<line x1="1108.7" y1="969.7" x2="2080" y2="969.7" stroke="#222" stroke-width="2.2"/>
<text x="1207.5" y="833.5" font-size="33.8" font-weight="bold" text-anchor="middle" fill="#000" textLength="120.0" lengthAdjust="spacingAndGlyphs" stroke="#000" stroke-width="0.90" stroke-linejoin="round">Sample</text>
<text x="1401.5" y="833.5" font-size="33.8" font-weight="bold" text-anchor="middle" fill="#000" textLength="60.0" lengthAdjust="spacingAndGlyphs" stroke="#000" stroke-width="0.90" stroke-linejoin="round">PCL</text>
<text x="1595.5" y="833.5" font-size="33.8" font-weight="bold" text-anchor="middle" fill="#000" textLength="191.0" lengthAdjust="spacingAndGlyphs" stroke="#000" stroke-width="0.90" stroke-linejoin="round">PCL-Plasma</text>
<text x="1789.0" y="833.5" font-size="33.8" font-weight="bold" text-anchor="middle" fill="#000" textLength="127.0" lengthAdjust="spacingAndGlyphs" stroke="#000" stroke-width="0.90" stroke-linejoin="round">PCL-GO</text>
<text x="1983.0" y="812.7" font-size="33.8" font-weight="bold" text-anchor="middle" fill="#000" textLength="73.0" lengthAdjust="spacingAndGlyphs" stroke="#000" stroke-width="0.90" stroke-linejoin="round">PCL-</text>
<text x="1982.5" y="854.3" font-size="33.8" font-weight="bold" text-anchor="middle" fill="#000" textLength="180.0" lengthAdjust="spacingAndGlyphs" stroke="#000" stroke-width="0.90" stroke-linejoin="round">Plasma-GO</text>
<text x="1207.5" y="911.6" font-size="33.8" font-weight="bold" text-anchor="middle" fill="#000" textLength="125.0" lengthAdjust="spacingAndGlyphs" stroke="#000" stroke-width="0.90" stroke-linejoin="round">Contact</text>
<text x="1207.5" y="954.7" font-size="33.8" font-weight="bold" text-anchor="middle" fill="#000" textLength="124.0" lengthAdjust="spacingAndGlyphs" stroke="#000" stroke-width="0.90" stroke-linejoin="round">angle(&#176;)</text>
<text x="1401.5" y="932.6" font-size="33.8" font-weight="bold" text-anchor="middle" fill="#000" textLength="88.0" lengthAdjust="spacingAndGlyphs" stroke="#000" stroke-width="0.90" stroke-linejoin="round">73.14</text>
<text x="1595.0" y="932.9" font-size="33.8" font-weight="bold" text-anchor="middle" fill="#000" textLength="88.0" lengthAdjust="spacingAndGlyphs" stroke="#000" stroke-width="0.90" stroke-linejoin="round">74.94</text>
<text x="1788.0" y="932.9" font-size="33.8" font-weight="bold" text-anchor="middle" fill="#000" textLength="87.0" lengthAdjust="spacingAndGlyphs" stroke="#000" stroke-width="0.90" stroke-linejoin="round">40.52</text>
<text x="1983.3" y="932.9" font-size="33.8" font-weight="bold" text-anchor="middle" fill="#000" textLength="67.0" lengthAdjust="spacingAndGlyphs" stroke="#000" stroke-width="0.90" stroke-linejoin="round">27.8</text></svg>
</body></html>
